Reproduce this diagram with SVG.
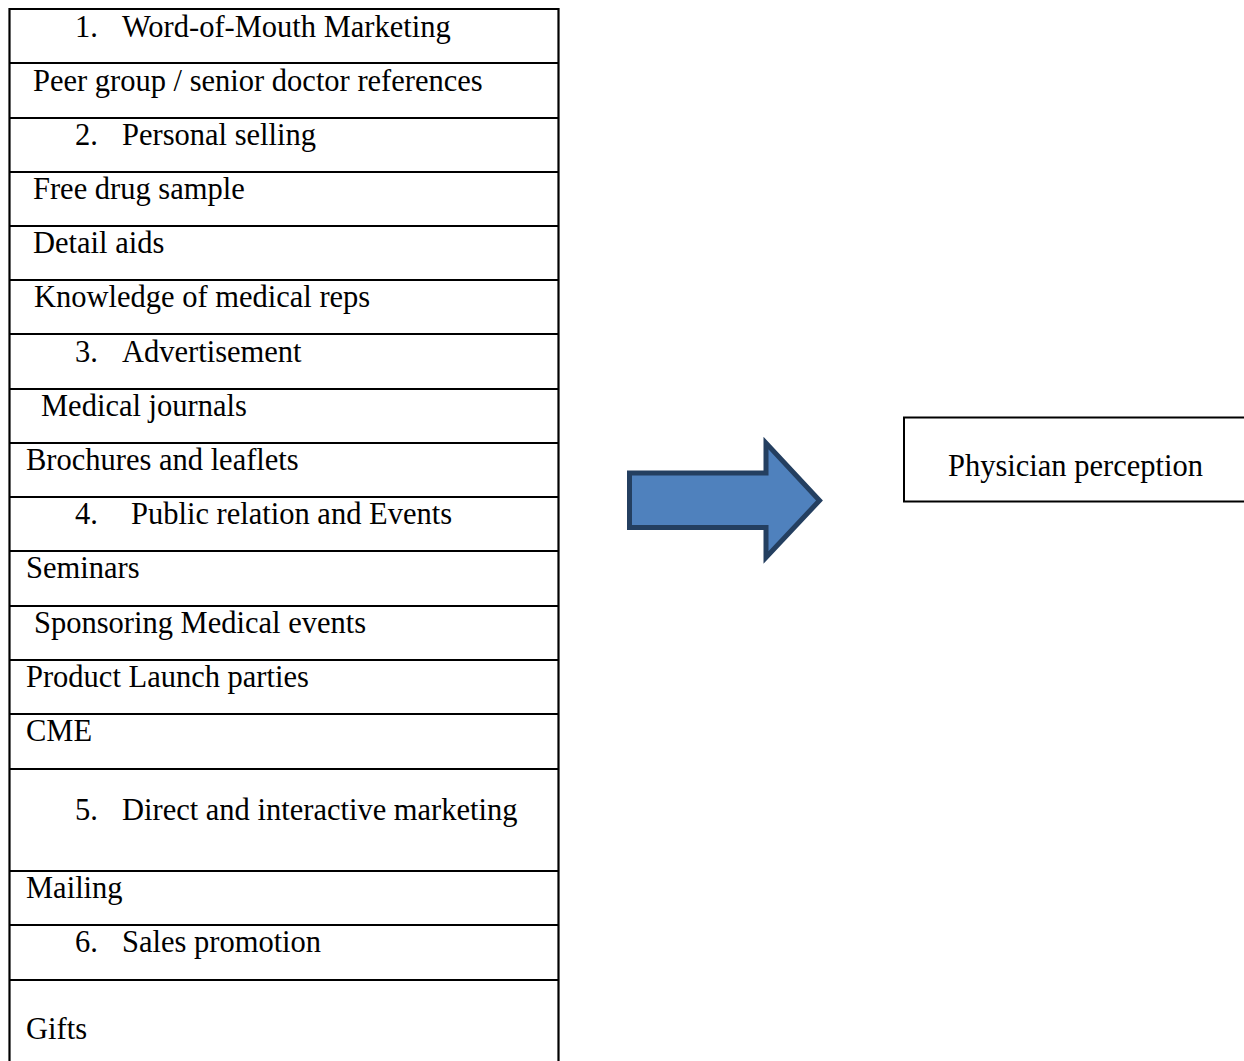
<svg xmlns="http://www.w3.org/2000/svg" width="1244" height="1061" viewBox="0 0 1244 1061">
  <style>
    .t { font-family: "Liberation Serif", "Times New Roman", serif; font-size: 30.5px; fill: #000; }
    .rule { stroke: #000; stroke-width: 2.2; fill: none; }
  </style>
  <rect width="1244" height="1061" fill="#fff"/>

  <!-- Promotion tools list -->
  <g id="tools-table">
    <path class="rule" d="M9.5 1061 V9 H558.5 V1061"/>
    <path class="rule" d="M9.5 63 H558.5 M9.5 118 H558.5 M9.5 172 H558.5 M9.5 226 H558.5 M9.5 280 H558.5 M9.5 334 H558.5 M9.5 389 H558.5 M9.5 443 H558.5 M9.5 497 H558.5 M9.5 551 H558.5 M9.5 606 H558.5 M9.5 660 H558.5 M9.5 714 H558.5 M9.5 769 H558.5 M9.5 871 H558.5 M9.5 925 H558.5 M9.5 980 H558.5"/>

    <text class="t" x="75" y="37">1.</text><text class="t" x="122" y="37">Word-of-Mouth Marketing</text>
    <text class="t" x="33" y="91">Peer group / senior doctor references</text>
    <text class="t" x="75" y="145">2.</text><text class="t" x="122" y="145">Personal selling</text>
    <text class="t" x="33" y="199">Free drug sample</text>
    <text class="t" x="33" y="253">Detail aids</text>
    <text class="t" x="34" y="307">Knowledge of medical reps</text>
    <text class="t" x="75" y="362">3.</text><text class="t" x="122" y="362">Advertisement</text>
    <text class="t" x="41" y="416">Medical journals</text>
    <text class="t" x="26" y="470">Brochures and leaflets</text>
    <text class="t" x="75" y="524">4.</text><text class="t" x="131" y="524">Public relation and Events</text>
    <text class="t" x="26" y="578">Seminars</text>
    <text class="t" x="34" y="633">Sponsoring Medical events</text>
    <text class="t" x="26" y="687">Product Launch parties</text>
    <text class="t" x="26" y="741">CME</text>
    <text class="t" x="75" y="820">5.</text><text class="t" x="122" y="820">Direct and interactive marketing</text>
    <text class="t" x="26" y="898">Mailing</text>
    <text class="t" x="75" y="952">6.</text><text class="t" x="122" y="952">Sales promotion</text>
    <text class="t" x="26" y="1039">Gifts</text>
  </g>

  <!-- Block arrow -->
  <g id="connectors">
    <path d="M629.5 473 H766 V443 L819.5 500.5 L766 557.5 V527.5 H629.5 Z" fill="#4F81BD" stroke="#243F60" stroke-width="5" stroke-linejoin="miter"/>
  </g>

  <!-- Outcome box -->
  <g id="physician-perception">
    <rect x="904" y="417.5" width="360" height="84" fill="#fff" stroke="#000" stroke-width="2"/>
    <text class="t" x="948" y="476">Physician perception</text>
  </g>
</svg>
